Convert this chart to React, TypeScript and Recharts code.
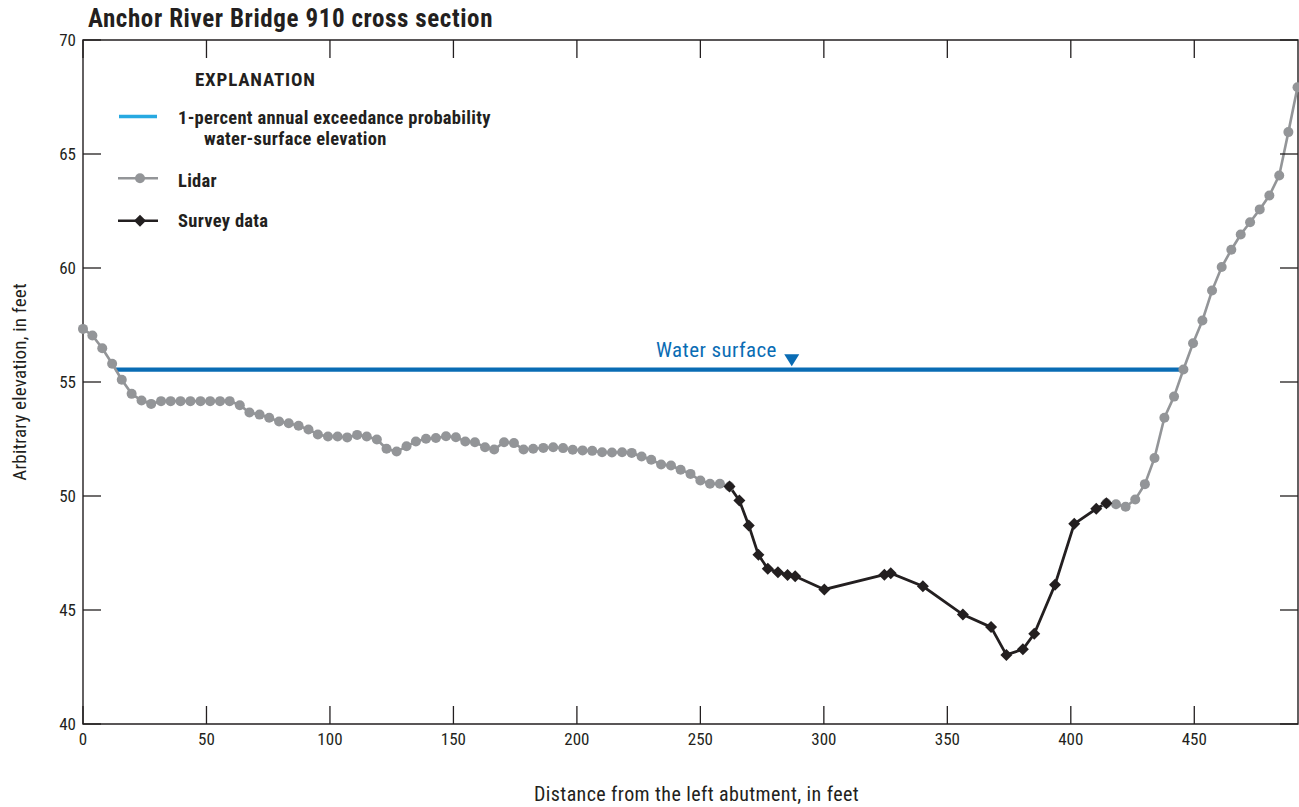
import {
  ComposedChart,
  Line,
  XAxis,
  YAxis,
  ReferenceArea,
  ReferenceDot,
  Legend,
  Label,
} from "recharts";

const FONT =
  "'Liberation Sans Narrow', 'Roboto Condensed', 'DejaVu Sans Condensed', 'Arial Narrow', sans-serif";
const INK = "#231f20";
const LIDAR_GRAY = "#939598";
const WATER_BLUE = "#0a6cb4";
const LEGEND_BLUE = "#27a9e1";

// plot frame (px) used by the inward tick marks
const PLOT_TOP = 40;
const PLOT_LEFT = 83;
const PLOT_RIGHT = 1298;
const TICK_LEN = 18;

const xTicks = [0, 50, 100, 150, 200, 250, 300, 350, 400, 450];
const yTicks = [40, 45, 50, 55, 60, 65, 70];

// lidar ground points, left overbank
const lidarLeftDist = [
  0, 3.8, 7.8, 11.8, 15.7, 19.7, 23.7, 27.6, 31.6, 35.5, 39.5, 43.5, 47.6,
  51.5, 55.5, 59.4, 63.5, 67.4, 71.5, 75.4, 79.4, 83.3, 87.3, 91.3, 95.1, 99.2,
  103.1, 107.0, 111.0, 114.9, 119.0, 122.9, 127.0, 131.0, 134.8, 138.9, 142.9,
  147.0, 151.0, 154.8, 158.7, 162.8, 166.5, 170.5, 174.5, 178.4, 182.3, 186.4,
  190.4, 194.4, 198.3, 202.3, 206.2, 210.2, 214.2, 218.3, 222.2, 226.2, 230.1,
  234.1, 238.1, 242.0, 246.0, 250.0, 253.9, 257.9, 261.8,
];
const lidarLeftElev = [
  57.33, 57.04, 56.48, 55.8, 55.1, 54.48, 54.19, 54.04, 54.16, 54.16, 54.16,
  54.16, 54.16, 54.16, 54.16, 54.16, 53.98, 53.66, 53.57, 53.43, 53.27, 53.19,
  53.08, 52.92, 52.7, 52.61, 52.61, 52.57, 52.68, 52.61, 52.48, 52.07, 51.95,
  52.18, 52.39, 52.51, 52.54, 52.62, 52.58, 52.39, 52.36, 52.14, 52.04, 52.36,
  52.32, 52.04, 52.07, 52.11, 52.14, 52.1, 52.03, 52.0, 51.98, 51.92, 51.91,
  51.92, 51.89, 51.73, 51.59, 51.38, 51.34, 51.15, 50.97, 50.68, 50.54, 50.54,
  50.42,
];

// lidar ground points, right bank
const lidarRightDist = [
  414.4, 418.3, 422.2, 426.1, 430.0, 433.9, 437.9, 441.8, 445.6, 449.5, 453.3,
  457.2, 461.1, 465.0, 468.8, 472.6, 476.5, 480.4, 484.4, 488.1, 491.8,
];
const lidarRightElev = [
  49.68, 49.64, 49.53, 49.85, 50.52, 51.67, 53.43, 54.36, 55.55, 56.7, 57.7,
  59.01, 60.04, 60.8, 61.47, 62.01, 62.57, 63.18, 64.06, 65.96, 67.93,
];

// surveyed channel points
const surveyDist = [
  261.8, 265.8, 269.6, 273.5, 277.3, 281.4, 285.3, 288.4, 300.2, 324.5, 327.1,
  340.1, 356.3, 367.7, 373.9, 380.6, 385.2, 393.6, 401.4, 410.3, 414.4,
];
const surveyElev = [
  50.42, 49.8, 48.71, 47.42, 46.81, 46.66, 46.54, 46.48, 45.9, 46.55, 46.61,
  46.04, 44.8, 44.25, 43.03, 43.28, 43.96, 46.11, 48.78, 49.44, 49.68,
];

// 1-percent AEP water surface, bank to bank
const waterDist = [13.3, 445.6];
const waterElev = [55.54, 55.54];
const waterLabelDist = 287;

const toPoints = (dist: number[], elev: number[]) =>
  dist.map((d, i) => ({ dist: d, elev: elev[i] }));

const lidarLeft = toPoints(lidarLeftDist, lidarLeftElev);
const lidarRight = toPoints(lidarRightDist, lidarRightElev);
const survey = toPoints(surveyDist, surveyElev);
const water = toPoints(waterDist, waterElev);

function DistanceTick({ x, y, payload }: any) {
  return (
    <g>
      <line x1={x} y1={y} x2={x} y2={y - TICK_LEN} stroke={INK} strokeWidth={1.3} />
      <line x1={x} y1={PLOT_TOP} x2={x} y2={PLOT_TOP + TICK_LEN} stroke={INK} strokeWidth={1.3} />
      <text x={x} y={y + 21} textAnchor="middle" fontFamily={FONT} fontSize={17} fill={INK}>
        {payload.value}
      </text>
    </g>
  );
}

function ElevationTick({ x, y, payload }: any) {
  return (
    <g>
      <line x1={x} y1={y} x2={x + TICK_LEN} y2={y} stroke={INK} strokeWidth={1.3} />
      <line x1={PLOT_RIGHT - TICK_LEN} y1={y} x2={PLOT_RIGHT} y2={y} stroke={INK} strokeWidth={1.3} />
      <text x={x - 7} y={y + 6} textAnchor="end" fontFamily={FONT} fontSize={17} fill={INK}>
        {payload.value}
      </text>
    </g>
  );
}

function Diamond({ cx, cy, size = 6 }: any) {
  if (cx == null || cy == null) return null;
  return (
    <polygon
      points={`${cx},${cy - size} ${cx + size},${cy} ${cx},${cy + size} ${cx - size},${cy}`}
      fill={INK}
    />
  );
}

function WaterSurfaceMark({ cx, cy }: any) {
  return (
    <g>
      <polygon
        points={`${cx - 7.5},${cy - 15.5} ${cx + 7.5},${cy - 15.5} ${cx},${cy - 3.5}`}
        fill={WATER_BLUE}
      />
      <text
        x={cx - 15}
        y={cy - 13}
        textAnchor="end"
        fontFamily={FONT}
        fontSize={21}
        letterSpacing={0.4}
        fill={WATER_BLUE}
      >
        Water surface
      </text>
    </g>
  );
}

function Explanation() {
  const txt = {
    fontFamily: FONT,
    fontSize: 18.5,
    fontWeight: 700,
    letterSpacing: 0.3,
    fill: INK,
  };
  return (
    <svg width={440} height={180} style={{ display: "block" }}>
      <text x={95} y={26} {...txt} fontSize={19} letterSpacing={0.8}>EXPLANATION</text>

      <line x1={19} y1={56.5} x2={57} y2={56.5} stroke={LEGEND_BLUE} strokeWidth={3.5} />
      <text x={78} y={64} {...txt}>1-percent annual exceedance probability</text>
      <text x={104} y={85} {...txt}>water-surface elevation</text>

      <line x1={18} y1={118.3} x2={58} y2={118.3} stroke={LIDAR_GRAY} strokeWidth={2.5} />
      <circle cx={40} cy={118.3} r={5} fill={LIDAR_GRAY} />
      <text x={78} y={126.5} {...txt}>Lidar</text>

      <line x1={18} y1={160.7} x2={58} y2={160.7} stroke={INK} strokeWidth={2.5} />
      <Diamond cx={40} cy={160.7} />
      <text x={78} y={166.5} {...txt}>Survey data</text>
    </svg>
  );
}

export default function App() {
  return (
    <div style={{ position: "absolute", left: 0, top: 0, width: 1299, height: 807, background: "#fff" }}>
      <div
        style={{
          position: "absolute",
          left: 88,
          top: 6,
          fontFamily: FONT,
          fontWeight: 700,
          fontSize: 25,
          letterSpacing: 0.6,
          lineHeight: "25px",
          color: INK,
          whiteSpace: "nowrap",
        }}
      >
        Anchor River Bridge 910 cross section
      </div>

      <ComposedChart
        width={1299}
        height={807}
        margin={{ top: PLOT_TOP, right: 1299 - PLOT_RIGHT, left: 0, bottom: 0 }}
      >
        <XAxis
          dataKey="dist"
          type="number"
          domain={[0, 492]}
          ticks={xTicks}
          allowDecimals={false}
          height={83}
          tickSize={0}
          tickMargin={0}
          tickLine={false}
          axisLine={false}
          tick={<DistanceTick />}
          interval={0}
        >
          <Label
            value="Distance from the left abutment, in feet"
            position="insideBottom"
            offset={6}
            dx={6}
            style={{ fontFamily: FONT, fontSize: 20, letterSpacing: 0.4, fill: INK }}
          />
        </XAxis>
        <YAxis
          dataKey="elev"
          type="number"
          domain={[40, 70]}
          ticks={yTicks}
          width={PLOT_LEFT}
          tickSize={0}
          tickMargin={0}
          tickLine={false}
          axisLine={false}
          tick={<ElevationTick />}
          interval={0}
        >
          <Label
            value="Arbitrary elevation, in feet"
            angle={-90}
            position="insideLeft"
            offset={19}
            style={{ fontFamily: FONT, fontSize: 19, letterSpacing: 0.2, fill: INK, textAnchor: "middle" }}
          />
        </YAxis>

        <ReferenceArea x1={0} x2={492} y1={40} y2={70} fill="none" stroke={INK} strokeWidth={1.4} />

        <Legend
          layout="vertical"
          align="center"
          verticalAlign="middle"
          wrapperStyle={{ left: 100, top: 60, width: 440, height: 180 }}
          content={() => <Explanation />}
        />

        <Line
          data={water}
          dataKey="elev"
          stroke={WATER_BLUE}
          strokeWidth={4.3}
          dot={false}
          activeDot={false}
          isAnimationActive={false}
        />
        <Line
          data={lidarLeft}
          dataKey="elev"
          stroke={LIDAR_GRAY}
          strokeWidth={2.6}
          dot={{ r: 5, fill: LIDAR_GRAY, stroke: "none" }}
          activeDot={false}
          isAnimationActive={false}
        />
        <Line
          data={lidarRight}
          dataKey="elev"
          stroke={LIDAR_GRAY}
          strokeWidth={2.6}
          dot={{ r: 5, fill: LIDAR_GRAY, stroke: "none" }}
          activeDot={false}
          isAnimationActive={false}
        />
        <Line
          data={survey}
          dataKey="elev"
          stroke={INK}
          strokeWidth={2.8}
          dot={<Diamond />}
          activeDot={false}
          isAnimationActive={false}
        />

        <ReferenceDot
          x={waterLabelDist}
          y={waterElev[0]}
          r={0}
          shape={<WaterSurfaceMark />}
        />
      </ComposedChart>
    </div>
  );
}
